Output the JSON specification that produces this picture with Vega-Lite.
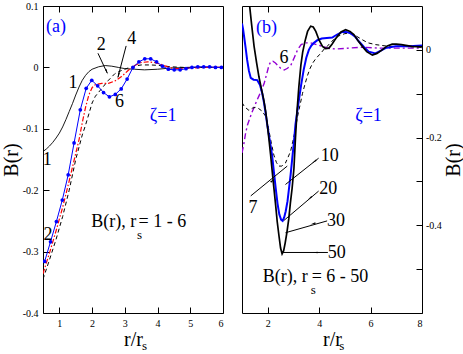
{
"$schema": "https://vega.github.io/schema/vega-lite/v6.json",
"padding": {"left": 0, "top": 0, "right": 0, "bottom": 0},
"spacing": 19,
"bounds": "flush",
"config": {
  "font": "Liberation Serif, Times New Roman, Times, serif",
  "view": {"stroke": "black", "strokeWidth": 1},
  "axis": {"labelFont": "Liberation Serif, Times New Roman, Times, serif", "labelFontSize": 10, "labelColor": "black", "tickColor": "black", "tickSize": -6, "tickWidth": 1, "domain": false, "grid": false, "labelPadding": 11, "titleFont": "Liberation Serif, Times New Roman, Times, serif", "titleFontSize": 20, "titleFontWeight": "normal", "titleColor": "black"},
  "text": {"font": "Liberation Serif, Times New Roman, Times, serif"}
},
"datasets": {
  "A": [
    {"s":"1","x":0.5,"y":-0.137},{"s":"1","x":0.6,"y":-0.133},{"s":"1","x":0.7,"y":-0.128},{"s":"1","x":0.8,"y":-0.122},{"s":"1","x":0.9,"y":-0.115},{"s":"1","x":1.0,"y":-0.107},{"s":"1","x":1.1,"y":-0.097},{"s":"1","x":1.2,"y":-0.085},{"s":"1","x":1.3,"y":-0.072},{"s":"1","x":1.4,"y":-0.059},{"s":"1","x":1.5,"y":-0.045},{"s":"1","x":1.6,"y":-0.032},{"s":"1","x":1.7,"y":-0.021},{"s":"1","x":1.8,"y":-0.013},{"s":"1","x":1.9,"y":-0.007},{"s":"1","x":2.0,"y":-0.003},{"s":"1","x":2.2,"y":0.001},{"s":"1","x":2.4,"y":0.003},{"s":"1","x":2.6,"y":0.002},{"s":"1","x":2.8,"y":0.0},{"s":"1","x":3.0,"y":-0.002},{"s":"1","x":3.3,"y":-0.003},{"s":"1","x":3.6,"y":-0.004},{"s":"1","x":4.0,"y":-0.003},{"s":"1","x":4.4,"y":-0.001},{"s":"1","x":5.0,"y":0.0},{"s":"1","x":6.0,"y":0.0},
    {"s":"2","x":0.5,"y":-0.345},{"s":"2","x":0.7,"y":-0.313},{"s":"2","x":0.9,"y":-0.28},{"s":"2","x":1.1,"y":-0.243},{"s":"2","x":1.3,"y":-0.2},{"s":"2","x":1.5,"y":-0.15},{"s":"2","x":1.7,"y":-0.11},{"s":"2","x":1.8,"y":-0.094},{"s":"2","x":1.9,"y":-0.076},{"s":"2","x":2.0,"y":-0.058},{"s":"2","x":2.1,"y":-0.047},{"s":"2","x":2.3,"y":-0.034},{"s":"2","x":2.5,"y":-0.021},{"s":"2","x":2.7,"y":-0.01},{"s":"2","x":2.9,"y":-0.005},{"s":"2","x":3.1,"y":-0.001},{"s":"2","x":3.3,"y":0.002},{"s":"2","x":3.5,"y":0.004},{"s":"2","x":3.8,"y":0.004},{"s":"2","x":4.1,"y":0.003},{"s":"2","x":4.4,"y":0.001},{"s":"2","x":4.8,"y":0.0},{"s":"2","x":6.0,"y":0.0},
    {"s":"4","x":0.5,"y":-0.336},{"s":"4","x":0.7,"y":-0.302},{"s":"4","x":0.9,"y":-0.266},{"s":"4","x":1.1,"y":-0.228},{"s":"4","x":1.3,"y":-0.185},{"s":"4","x":1.5,"y":-0.14},{"s":"4","x":1.6,"y":-0.118},{"s":"4","x":1.7,"y":-0.09},{"s":"4","x":1.8,"y":-0.065},{"s":"4","x":1.9,"y":-0.045},{"s":"4","x":2.0,"y":-0.033},{"s":"4","x":2.1,"y":-0.028},{"s":"4","x":2.3,"y":-0.026},{"s":"4","x":2.5,"y":-0.026},{"s":"4","x":2.7,"y":-0.022},{"s":"4","x":2.9,"y":-0.015},{"s":"4","x":3.1,"y":-0.005},{"s":"4","x":3.3,"y":0.003},{"s":"4","x":3.5,"y":0.008},{"s":"4","x":3.7,"y":0.009},{"s":"4","x":3.9,"y":0.008},{"s":"4","x":4.1,"y":0.005},{"s":"4","x":4.3,"y":0.001},{"s":"4","x":4.5,"y":-0.002},{"s":"4","x":4.7,"y":-0.002},{"s":"4","x":5.0,"y":-0.001},{"s":"4","x":5.5,"y":0.0},{"s":"4","x":6.0,"y":0.0},
    {"s":"6","x":0.55,"y":-0.316},{"s":"6","x":0.73,"y":-0.284},{"s":"6","x":0.91,"y":-0.251},{"s":"6","x":1.09,"y":-0.216},{"s":"6","x":1.27,"y":-0.175},{"s":"6","x":1.45,"y":-0.123},{"s":"6","x":1.64,"y":-0.069},{"s":"6","x":1.82,"y":-0.034},{"s":"6","x":1.99,"y":-0.021},{"s":"6","x":2.17,"y":-0.03},{"s":"6","x":2.35,"y":-0.041},{"s":"6","x":2.53,"y":-0.048},{"s":"6","x":2.71,"y":-0.044},{"s":"6","x":2.89,"y":-0.035},{"s":"6","x":3.07,"y":-0.019},{"s":"6","x":3.25,"y":0.0},{"s":"6","x":3.43,"y":0.009},{"s":"6","x":3.61,"y":0.014},{"s":"6","x":3.79,"y":0.014},{"s":"6","x":3.97,"y":0.009},{"s":"6","x":4.15,"y":0.002},{"s":"6","x":4.33,"y":-0.003},{"s":"6","x":4.51,"y":-0.004},{"s":"6","x":4.69,"y":-0.004},{"s":"6","x":4.87,"y":-0.002},{"s":"6","x":5.05,"y":0.0},{"s":"6","x":5.23,"y":0.001},{"s":"6","x":5.41,"y":0.001},{"s":"6","x":5.59,"y":0.001},{"s":"6","x":5.77,"y":0.0},{"s":"6","x":5.95,"y":0.0}
  ],
  "B": [
    {"s":"50","x":1.2,"y":0.15},{"s":"50","x":1.27,"y":0.115},{"s":"50","x":1.37,"y":0.06},{"s":"50","x":1.47,"y":0.008},{"s":"50","x":1.57,"y":-0.03},{"s":"50","x":1.66,"y":-0.062},{"s":"50","x":1.76,"y":-0.09},{"s":"50","x":1.85,"y":-0.115},{"s":"50","x":1.92,"y":-0.14},{"s":"50","x":1.98,"y":-0.169},{"s":"50","x":2.05,"y":-0.205},{"s":"50","x":2.11,"y":-0.238},{"s":"50","x":2.18,"y":-0.28},{"s":"50","x":2.24,"y":-0.315},{"s":"50","x":2.31,"y":-0.355},{"s":"50","x":2.37,"y":-0.392},{"s":"50","x":2.44,"y":-0.425},{"s":"50","x":2.5,"y":-0.452},{"s":"50","x":2.56,"y":-0.465},{"s":"50","x":2.62,"y":-0.458},{"s":"50","x":2.68,"y":-0.44},{"s":"50","x":2.75,"y":-0.415},{"s":"50","x":2.82,"y":-0.385},{"s":"50","x":2.88,"y":-0.35},{"s":"50","x":2.95,"y":-0.315},{"s":"50","x":3.02,"y":-0.27},{"s":"50","x":3.08,"y":-0.2},{"s":"50","x":3.14,"y":-0.14},{"s":"50","x":3.21,"y":-0.085},{"s":"50","x":3.29,"y":-0.035},{"s":"50","x":3.36,"y":-0.005},{"s":"50","x":3.45,"y":0.02},{"s":"50","x":3.55,"y":0.042},{"s":"50","x":3.67,"y":0.054},{"s":"50","x":3.77,"y":0.052},{"s":"50","x":3.87,"y":0.042},{"s":"50","x":4.0,"y":0.022},{"s":"50","x":4.13,"y":0.008},{"s":"50","x":4.25,"y":0.003},{"s":"50","x":4.38,"y":0.004},{"s":"50","x":4.5,"y":0.013},{"s":"50","x":4.6,"y":0.022},{"s":"50","x":4.71,"y":0.031},{"s":"50","x":4.85,"y":0.041},{"s":"50","x":5.03,"y":0.046},{"s":"50","x":5.2,"y":0.042},{"s":"50","x":5.35,"y":0.035},{"s":"50","x":5.5,"y":0.022},{"s":"50","x":5.68,"y":0.008},{"s":"50","x":5.85,"y":-0.004},{"s":"50","x":6.07,"y":-0.012},{"s":"50","x":6.25,"y":-0.008},{"s":"50","x":6.45,"y":0.0},{"s":"50","x":6.65,"y":0.009},{"s":"50","x":6.84,"y":0.013},{"s":"50","x":7.0,"y":0.013},{"s":"50","x":7.2,"y":0.012},{"s":"50","x":7.6,"y":0.008},{"s":"50","x":8.0,"y":0.007},
    {"s":"20","x":1.0,"y":0.06},{"s":"20","x":1.04,"y":0.048},{"s":"20","x":1.08,"y":0.031},{"s":"20","x":1.14,"y":0.005},{"s":"20","x":1.2,"y":-0.023},{"s":"20","x":1.27,"y":-0.048},{"s":"20","x":1.34,"y":-0.064},{"s":"20","x":1.45,"y":-0.068},{"s":"20","x":1.59,"y":-0.069},{"s":"20","x":1.7,"y":-0.08},{"s":"20","x":1.79,"y":-0.1},{"s":"20","x":1.86,"y":-0.122},{"s":"20","x":1.92,"y":-0.145},{"s":"20","x":1.98,"y":-0.17},{"s":"20","x":2.08,"y":-0.207},{"s":"20","x":2.17,"y":-0.24},{"s":"20","x":2.24,"y":-0.278},{"s":"20","x":2.31,"y":-0.315},{"s":"20","x":2.38,"y":-0.35},{"s":"20","x":2.45,"y":-0.375},{"s":"20","x":2.52,"y":-0.387},{"s":"20","x":2.58,"y":-0.39},{"s":"20","x":2.64,"y":-0.382},{"s":"20","x":2.7,"y":-0.368},{"s":"20","x":2.77,"y":-0.345},{"s":"20","x":2.83,"y":-0.315},{"s":"20","x":2.89,"y":-0.285},{"s":"20","x":2.95,"y":-0.25},{"s":"20","x":3.02,"y":-0.21},{"s":"20","x":3.08,"y":-0.17},{"s":"20","x":3.15,"y":-0.14},{"s":"20","x":3.22,"y":-0.112},{"s":"20","x":3.3,"y":-0.08},{"s":"20","x":3.4,"y":-0.045},{"s":"20","x":3.5,"y":-0.018},{"s":"20","x":3.6,"y":0.0},{"s":"20","x":3.7,"y":0.01},{"s":"20","x":3.8,"y":0.016},{"s":"20","x":3.93,"y":0.022},{"s":"20","x":4.1,"y":0.026},{"s":"20","x":4.3,"y":0.027},{"s":"20","x":4.51,"y":0.028},{"s":"20","x":4.7,"y":0.035},{"s":"20","x":4.9,"y":0.041},{"s":"20","x":5.05,"y":0.041},{"s":"20","x":5.22,"y":0.038},{"s":"20","x":5.4,"y":0.03},{"s":"20","x":5.55,"y":0.019},{"s":"20","x":5.75,"y":0.006},{"s":"20","x":5.93,"y":-0.004},{"s":"20","x":6.19,"y":-0.008},{"s":"20","x":6.4,"y":-0.002},{"s":"20","x":6.58,"y":0.004},{"s":"20","x":6.97,"y":0.008},{"s":"20","x":7.5,"y":0.008},{"s":"20","x":8.0,"y":0.01},
    {"s":"7","x":1.0,"y":-0.12},{"s":"7","x":1.1,"y":-0.13},{"s":"7","x":1.27,"y":-0.138},{"s":"7","x":1.4,"y":-0.133},{"s":"7","x":1.53,"y":-0.131},{"s":"7","x":1.65,"y":-0.134},{"s":"7","x":1.79,"y":-0.14},{"s":"7","x":1.9,"y":-0.15},{"s":"7","x":1.98,"y":-0.163},{"s":"7","x":2.05,"y":-0.185},{"s":"7","x":2.15,"y":-0.215},{"s":"7","x":2.24,"y":-0.24},{"s":"7","x":2.34,"y":-0.257},{"s":"7","x":2.43,"y":-0.265},{"s":"7","x":2.55,"y":-0.265},{"s":"7","x":2.69,"y":-0.258},{"s":"7","x":2.79,"y":-0.245},{"s":"7","x":2.89,"y":-0.231},{"s":"7","x":2.98,"y":-0.208},{"s":"7","x":3.08,"y":-0.18},{"s":"7","x":3.16,"y":-0.152},{"s":"7","x":3.26,"y":-0.125},{"s":"7","x":3.35,"y":-0.1},{"s":"7","x":3.45,"y":-0.078},{"s":"7","x":3.55,"y":-0.058},{"s":"7","x":3.65,"y":-0.042},{"s":"7","x":3.75,"y":-0.03},{"s":"7","x":3.87,"y":-0.02},{"s":"7","x":4.06,"y":-0.008},{"s":"7","x":4.2,"y":0.002},{"s":"7","x":4.38,"y":0.012},{"s":"7","x":4.57,"y":0.024},{"s":"7","x":4.77,"y":0.032},{"s":"7","x":5.0,"y":0.037},{"s":"7","x":5.16,"y":0.038},{"s":"7","x":5.4,"y":0.033},{"s":"7","x":5.68,"y":0.023},{"s":"7","x":5.9,"y":0.016},{"s":"7","x":6.19,"y":0.012},{"s":"7","x":6.7,"y":0.008},{"s":"7","x":7.2,"y":0.008},{"s":"7","x":8.0,"y":0.006},
    {"s":"6","x":1.0,"y":-0.235},{"s":"6","x":1.07,"y":-0.215},{"s":"6","x":1.14,"y":-0.19},{"s":"6","x":1.21,"y":-0.172},{"s":"6","x":1.28,"y":-0.16},{"s":"6","x":1.37,"y":-0.145},{"s":"6","x":1.47,"y":-0.131},{"s":"6","x":1.56,"y":-0.118},{"s":"6","x":1.66,"y":-0.105},{"s":"6","x":1.76,"y":-0.091},{"s":"6","x":1.86,"y":-0.077},{"s":"6","x":1.96,"y":-0.055},{"s":"6","x":2.05,"y":-0.035},{"s":"6","x":2.12,"y":-0.027},{"s":"6","x":2.2,"y":-0.026},{"s":"6","x":2.3,"y":-0.03},{"s":"6","x":2.38,"y":-0.035},{"s":"6","x":2.5,"y":-0.042},{"s":"6","x":2.64,"y":-0.046},{"s":"6","x":2.77,"y":-0.042},{"s":"6","x":2.9,"y":-0.035},{"s":"6","x":3.03,"y":-0.018},{"s":"6","x":3.16,"y":0.0},{"s":"6","x":3.3,"y":0.012},{"s":"6","x":3.45,"y":0.016},{"s":"6","x":3.67,"y":0.016},{"s":"6","x":3.9,"y":0.012},{"s":"6","x":4.13,"y":0.008},{"s":"6","x":4.4,"y":0.003},{"s":"6","x":4.64,"y":0.002},{"s":"6","x":5.16,"y":0.004},{"s":"6","x":5.68,"y":0.006},{"s":"6","x":6.32,"y":0.004},{"s":"6","x":7.0,"y":0.004},{"s":"6","x":8.0,"y":0.004}
  ]
},
"hconcat": [
{
  "width": 180, "height": 307,
  "resolve": {"axis": {"x": "independent", "y": "independent"}},
  "layer": [
    {"data": {"name": "A"}, "transform": [{"filter": "datum.s == '1'"}],
     "mark": {"type": "line", "clip": true, "color": "black", "strokeWidth": 0.9},
     "encoding": {
       "x": {"field": "x", "type": "quantitative", "scale": {"domain": [0.5, 6], "nice": false, "zero": false},
             "axis": {"orient": "bottom", "values": [1,2,3,4,5,6], "title": "r/r", "titleY": 26, "titleBaseline": "middle"}},
       "y": {"field": "y", "type": "quantitative", "scale": {"domain": [-0.4, 0.1], "nice": false, "zero": false},
             "axis": {"orient": "left", "values": [-0.4,-0.3,-0.2,-0.1,0,0.1], "labelExpr": "abs(datum.value) < 1e-9 ? '0' : (datum.value < 0 ? '-' : '') + format(abs(datum.value), '.1f')", "title": "B(r)", "titleX": -31.7, "titleY": 153.5, "titleAngle": -90, "titleBaseline": "middle", "titleAlign": "center"}}
     }},
    {"data": {"name": "A"}, "transform": [{"filter": "datum.s == '2'"}],
     "mark": {"type": "line", "clip": true, "color": "black", "strokeWidth": 1, "strokeDash": [4, 3]},
     "encoding": {
       "x": {"field": "x", "type": "quantitative", "scale": {"domain": [0.5, 6], "nice": false, "zero": false},
             "axis": {"orient": "top", "values": [1,2,3,4,5], "labels": false, "title": null}},
       "y": {"field": "y", "type": "quantitative", "scale": {"domain": [-0.4, 0.1], "nice": false, "zero": false}, "axis": null}
     }},
    {"data": {"name": "A"}, "transform": [{"filter": "datum.s == '4'"}],
     "mark": {"type": "line", "clip": true, "color": "#ff0000", "strokeWidth": 1.2, "strokeDash": [5, 2, 1.5, 2]},
     "encoding": {
       "x": {"field": "x", "type": "quantitative", "axis": null},
       "y": {"field": "y", "type": "quantitative", "axis": null}
     }},
    {"data": {"name": "A"}, "transform": [{"filter": "datum.s == '6'"}],
     "mark": {"type": "line", "clip": true, "color": "#0000ff", "strokeWidth": 1, "point": {"filled": true, "size": 14, "color": "#0000ff"}},
     "encoding": {
       "x": {"field": "x", "type": "quantitative", "axis": null},
       "y": {"field": "y", "type": "quantitative", "axis": null}
     }},
    {"data": {"values": [{"x":2.18,"y":0.023,"x2":2.46,"y2":-0.009},{"x":3.04,"y":0.035,"x2":2.79,"y2":-0.016}]},
     "mark": {"type": "rule", "color": "black", "strokeWidth": 1},
     "encoding": {"x": {"field": "x", "type": "quantitative", "axis": null}, "y": {"field": "y", "type": "quantitative", "axis": null}, "x2": {"field": "x2"}, "y2": {"field": "y2"}}},
    {"data": {"values": [{"x":2.44,"y":-0.006}]},
     "mark": {"type": "point", "shape": "wedge", "filled": true, "color": "black", "size": 40, "angle": 158, "opacity": 1},
     "encoding": {"x": {"field": "x", "type": "quantitative", "axis": null}, "y": {"field": "y", "type": "quantitative", "axis": null}}},
    {"data": {"values": [{"x":2.81,"y":-0.012}]},
     "mark": {"type": "point", "shape": "wedge", "filled": true, "color": "black", "size": 40, "angle": 194, "opacity": 1},
     "encoding": {"x": {"field": "x", "type": "quantitative", "axis": null}, "y": {"field": "y", "type": "quantitative", "axis": null}}},
    {"data": {"values": [{"t":"1","x":1.42,"y":-0.026},{"t":"2","x":2.28,"y":0.036},{"t":"4","x":3.21,"y":0.047},{"t":"6","x":2.84,"y":-0.056},{"t":"1","x":0.63,"y":-0.15},{"t":"2","x":0.65,"y":-0.273}]},
     "mark": {"type": "text", "fontSize": 18, "color": "black", "baseline": "middle", "align": "center"},
     "encoding": {"x": {"field": "x", "type": "quantitative", "axis": null}, "y": {"field": "y", "type": "quantitative", "axis": null}, "text": {"field": "t"}}},
    {"data": {"values": [{"t":"(a)","x":0.9,"y":0.066},{"t":"ζ=1","x":4.17,"y":-0.079}]},
     "mark": {"type": "text", "fontSize": 18, "color": "#0000ff", "baseline": "middle", "align": "center"},
     "encoding": {"x": {"field": "x", "type": "quantitative", "axis": null}, "y": {"field": "y", "type": "quantitative", "axis": null}, "text": {"field": "t"}}},
    {"data": {"values": [{"t":"B(r), r","x":3.35,"y":-0.252}]},
     "mark": {"type": "text", "fontSize": 18, "color": "black", "baseline": "middle", "align": "right"},
     "encoding": {"x": {"field": "x", "type": "quantitative", "axis": null}, "y": {"field": "y", "type": "quantitative", "axis": null}, "text": {"field": "t"}}},
    {"data": {"values": [{"t":"= 1 - 6","x":3.42,"y":-0.252}]},
     "mark": {"type": "text", "fontSize": 18, "color": "black", "baseline": "middle", "align": "left"},
     "encoding": {"x": {"field": "x", "type": "quantitative", "axis": null}, "y": {"field": "y", "type": "quantitative", "axis": null}, "text": {"field": "t"}}},
    {"data": {"values": [{"t":"s","x":3.45,"y":-0.273},{"t":"s","x":3.6,"y":-0.454}]},
     "mark": {"type": "text", "fontSize": 13, "color": "black", "baseline": "middle", "align": "center"},
     "encoding": {"x": {"field": "x", "type": "quantitative", "axis": null}, "y": {"field": "y", "type": "quantitative", "axis": null}, "text": {"field": "t"}}}
  ]
},
{
  "width": 180, "height": 307,
  "resolve": {"axis": {"x": "independent", "y": "independent"}},
  "layer": [
    {"data": {"name": "B"}, "transform": [{"filter": "datum.s == '6'"}],
     "mark": {"type": "line", "clip": true, "color": "#9400d3", "strokeWidth": 1.4, "strokeDash": [6, 3, 2, 3]},
     "encoding": {
       "x": {"field": "x", "type": "quantitative", "scale": {"domain": [1, 8], "nice": false, "zero": false},
             "axis": {"orient": "bottom", "values": [2,4,6,8], "title": "r/r", "titleY": 26, "titleBaseline": "middle"}},
       "y": {"field": "y", "type": "quantitative", "scale": {"domain": [-0.6, 0.1], "nice": false, "zero": false},
             "axis": {"orient": "right", "values": [-0.5,-0.4,-0.3,-0.2,-0.1,0], "labelPadding": 9.5, "labelExpr": "abs(datum.value) < 1e-9 ? '0' : (abs(round(datum.value*10)) % 2 == 1 ? '' : (datum.value < 0 ? '-' : '') + format(abs(datum.value), '.1f'))", "title": "B(r)", "titleX": 31.5, "titleY": 153.5, "titleAngle": -90, "titleBaseline": "middle", "titleAlign": "center"}}
     }},
    {"data": {"name": "B"}, "transform": [{"filter": "datum.s == '7'"}],
     "mark": {"type": "line", "clip": true, "color": "black", "strokeWidth": 1, "strokeDash": [4, 3]},
     "encoding": {
       "x": {"field": "x", "type": "quantitative", "scale": {"domain": [1, 8], "nice": false, "zero": false},
             "axis": {"orient": "top", "values": [2,4,6], "labels": false, "title": null}},
       "y": {"field": "y", "type": "quantitative", "scale": {"domain": [-0.6, 0.1], "nice": false, "zero": false}, "axis": null}
     }},
    {"data": {"name": "B"}, "transform": [{"filter": "datum.s == '20'"}],
     "mark": {"type": "line", "clip": true, "color": "#0000ff", "strokeWidth": 2},
     "encoding": {"x": {"field": "x", "type": "quantitative", "axis": null}, "y": {"field": "y", "type": "quantitative", "axis": null}}},
    {"data": {"name": "B"}, "transform": [{"filter": "datum.s == '50'"}],
     "mark": {"type": "line", "clip": true, "color": "black", "strokeWidth": 1.7},
     "encoding": {"x": {"field": "x", "type": "quantitative", "axis": null}, "y": {"field": "y", "type": "quantitative", "axis": null}}},
    {"data": {"values": [{"x":1.34,"y":-0.333,"x2":2.76,"y2":-0.265},{"x":3.98,"y":-0.247,"x2":2.69,"y2":-0.307},{"x":3.98,"y":-0.322,"x2":2.63,"y2":-0.389},{"x":4.31,"y":-0.39,"x2":2.69,"y2":-0.417},{"x":4.34,"y":-0.462,"x2":2.56,"y2":-0.462}]},
     "mark": {"type": "rule", "color": "black", "strokeWidth": 1},
     "encoding": {"x": {"field": "x", "type": "quantitative", "axis": null}, "y": {"field": "y", "type": "quantitative", "axis": null}, "x2": {"field": "x2"}, "y2": {"field": "y2"}}},
    {"data": {"values": [{"x":2.17,"y":-0.299}]},
     "mark": {"type": "point", "shape": "wedge", "filled": true, "color": "black", "size": 40, "angle": 51, "opacity": 1},
     "encoding": {"x": {"field": "x", "type": "quantitative", "axis": null}, "y": {"field": "y", "type": "quantitative", "axis": null}}},
    {"data": {"values": [{"x":3.83,"y":-0.254}]},
     "mark": {"type": "point", "shape": "wedge", "filled": true, "color": "black", "size": 40, "angle": 232, "opacity": 1},
     "encoding": {"x": {"field": "x", "type": "quantitative", "axis": null}, "y": {"field": "y", "type": "quantitative", "axis": null}}},
    {"data": {"values": [{"x":3.66,"y":-0.337}]},
     "mark": {"type": "point", "shape": "wedge", "filled": true, "color": "black", "size": 40, "angle": 230, "opacity": 1},
     "encoding": {"x": {"field": "x", "type": "quantitative", "axis": null}, "y": {"field": "y", "type": "quantitative", "axis": null}}},
    {"data": {"values": [{"x":3.79,"y":-0.396}]},
     "mark": {"type": "point", "shape": "wedge", "filled": true, "color": "black", "size": 40, "angle": 254, "opacity": 1},
     "encoding": {"x": {"field": "x", "type": "quantitative", "axis": null}, "y": {"field": "y", "type": "quantitative", "axis": null}}},
    {"data": {"values": [{"x":3.87,"y":-0.462}]},
     "mark": {"type": "point", "shape": "wedge", "filled": true, "color": "black", "size": 40, "angle": 270, "opacity": 1},
     "encoding": {"x": {"field": "x", "type": "quantitative", "axis": null}, "y": {"field": "y", "type": "quantitative", "axis": null}}},
    {"data": {"values": [{"t":"6","x":2.63,"y":-0.019},{"t":"7","x":1.43,"y":-0.361},{"t":"10","x":4.41,"y":-0.242},{"t":"20","x":4.35,"y":-0.318},{"t":"30","x":4.66,"y":-0.39},{"t":"50","x":4.68,"y":-0.463}]},
     "mark": {"type": "text", "fontSize": 18, "color": "black", "baseline": "middle", "align": "center"},
     "encoding": {"x": {"field": "x", "type": "quantitative", "axis": null}, "y": {"field": "y", "type": "quantitative", "axis": null}, "text": {"field": "t"}}},
    {"data": {"values": [{"t":"(b)","x":1.95,"y":0.05},{"t":"ζ=1","x":5.92,"y":-0.151}]},
     "mark": {"type": "text", "fontSize": 18, "color": "#0000ff", "baseline": "middle", "align": "center"},
     "encoding": {"x": {"field": "x", "type": "quantitative", "axis": null}, "y": {"field": "y", "type": "quantitative", "axis": null}, "text": {"field": "t"}}},
    {"data": {"values": [{"t":"B(r), r","x":3.56,"y":-0.518}]},
     "mark": {"type": "text", "fontSize": 18, "color": "black", "baseline": "middle", "align": "right"},
     "encoding": {"x": {"field": "x", "type": "quantitative", "axis": null}, "y": {"field": "y", "type": "quantitative", "axis": null}, "text": {"field": "t"}}},
    {"data": {"values": [{"t":"= 6 - 50","x":3.71,"y":-0.518}]},
     "mark": {"type": "text", "fontSize": 18, "color": "black", "baseline": "middle", "align": "left"},
     "encoding": {"x": {"field": "x", "type": "quantitative", "axis": null}, "y": {"field": "y", "type": "quantitative", "axis": null}, "text": {"field": "t"}}},
    {"data": {"values": [{"t":"s","x":3.77,"y":-0.548},{"t":"s","x":4.88,"y":-0.675}]},
     "mark": {"type": "text", "fontSize": 13, "color": "black", "baseline": "middle", "align": "center"},
     "encoding": {"x": {"field": "x", "type": "quantitative", "axis": null}, "y": {"field": "y", "type": "quantitative", "axis": null}, "text": {"field": "t"}}}
  ]
}
]
}
